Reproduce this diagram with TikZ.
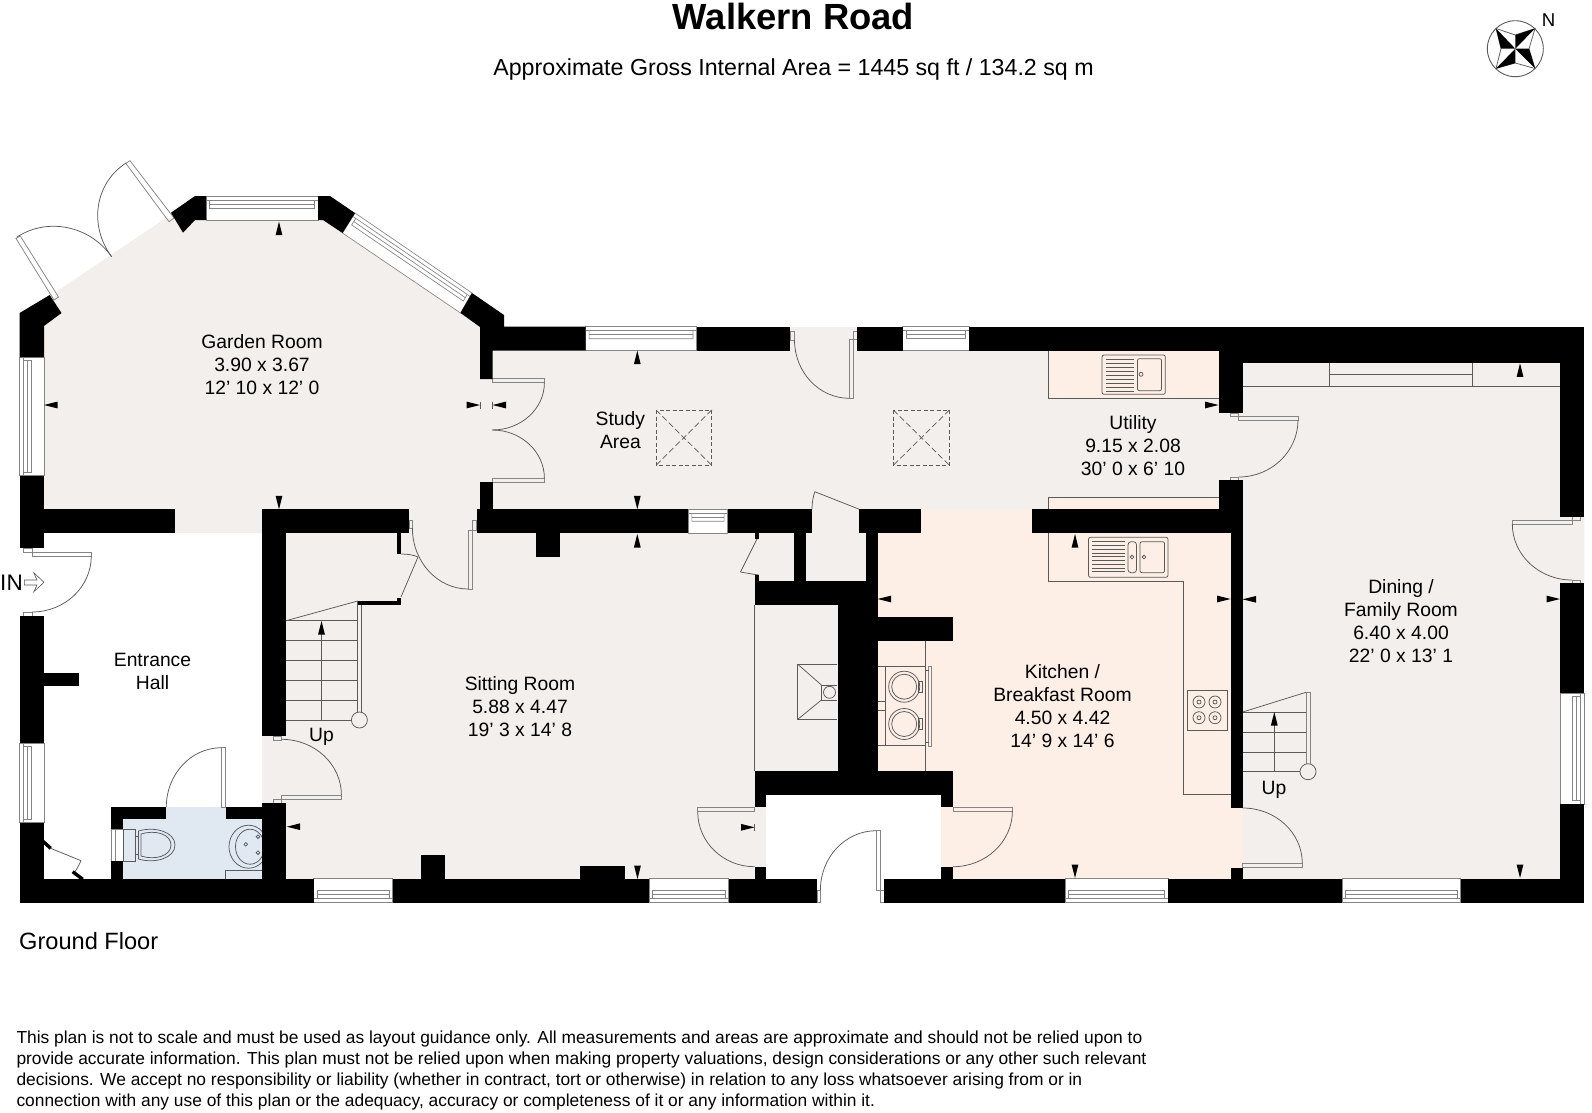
\documentclass[tikz,border=0pt]{standalone}
\usepackage{fontspec}
\setmainfont{Liberation Sans}
\usetikzlibrary{calc}
\definecolor{roomgrey}{HTML}{F3EFEC}
\definecolor{roompeach}{HTML}{FDEEE6}
\definecolor{roomblue}{HTML}{E0E9F2}
\definecolor{linegrey}{HTML}{5A5A5A}
\definecolor{wingrey}{HTML}{858585}
\tikzset{
  fine/.style={draw=linegrey,line width=0.75pt},
  leaf/.style={draw=wingrey,line width=0.75pt},
  winline/.style={draw=wingrey,line width=0.65pt},
  roomlabel/.style={font=\fontsize{19.3}{23}\selectfont,align=center,inner sep=0pt,text=black},
  discl/.style={font=\fontsize{17.38}{21}\selectfont,align=left,inner sep=0pt,anchor=north west},
}
% wall rectangle
\def\wall(#1)(#2){\fill[black] (#1) rectangle (#2);}
% quarter arc from A to B with corner C
\def\qa(#1)(#2)(#3){\draw[fine] (#1) .. controls ($(#1)!.552!(#2)$) and ($(#3)!.552!(#2)$) .. (#3);}
% thin rectangle (door leaf or jamb)
\def\lf(#1)(#2){\draw[leaf] (#1) rectangle (#2);}
% window: outer edge A-B, inner edge C-D
\def\win(#1)(#2)(#3)(#4){%
  \fill[white] (#1) -- (#2) -- (#4) -- (#3) -- cycle;
  \draw[winline] (#1) -- (#2) -- (#4) -- (#3) -- cycle;
  \draw[winline] ($(#1)!.17!(#3)$) -- ($(#2)!.17!(#4)$);
  \draw[winline]
    ($($(#1)!.17!(#3)$)!3.5pt!($(#2)!.17!(#4)$)$) --
    ($($(#1)!.5!(#3)$)!3.5pt!($(#2)!.5!(#4)$)$) --
    ($($(#2)!.5!(#4)$)!3.5pt!($(#1)!.5!(#3)$)$) --
    ($($(#2)!.17!(#4)$)!3.5pt!($(#1)!.17!(#3)$)$);
  \draw[winline]
    ($($(#1)!.33!(#3)$)!3.5pt!($(#2)!.33!(#4)$)$) --
    ($($(#2)!.33!(#4)$)!3.5pt!($(#1)!.33!(#3)$)$);
}
% dimension arrows: tip at x,y
\def\au(#1,#2){\fill[black] (#1,#2) -- ++(-3.4,13.5) -- ++(6.8,0) -- cycle;}
\def\ad(#1,#2){\fill[black] (#1,#2) -- ++(-3.4,-13.5) -- ++(6.8,0) -- cycle;}
\def\al(#1,#2){\fill[black] (#1,#2) -- ++(13.5,-3.4) -- ++(0,6.8) -- cycle;}
\def\ar(#1,#2){\fill[black] (#1,#2) -- ++(-13.5,-3.4) -- ++(0,6.8) -- cycle;}
\def\vb(#1,#2){\draw[fine] (#1,#2-3.5) -- (#1,#2+3.5);}
% skylight
\def\sky(#1,#2,#3,#4){%
  \draw[linegrey,line width=0.7pt,dash pattern=on 4pt off 2.5pt] (#1,#2) rectangle (#3,#4);
  \draw[linegrey,line width=0.7pt,dash pattern=on 6pt off 3pt] (#1,#2) -- (#3,#4);
  \draw[linegrey,line width=0.7pt,dash pattern=on 6pt off 3pt] (#3,#2) -- (#1,#4);
}
\begin{document}
\begin{tikzpicture}[x=1pt,y=-1pt]
\useasboundingbox (0,0) rectangle (1592,1112);
\fill[white] (0,0) rectangle (1592,1112);

% ---------- room fills
\fill[roomgrey] (44,326) -- (56,292) -- (166,218) -- (195,220) -- (323,220) -- (460.5,313) -- (480,327)
  -- (480,340) -- (790,340) -- (790,327) -- (857,327) -- (857,351) -- (1218.6,351) -- (1218.6,363.3)
  -- (1560,363.3) -- (1560,516.7) -- (1584.4,516.7) -- (1584.4,583.3) -- (1560,583.3) -- (1560,879)
  -- (44,879) -- cycle;
\fill[roompeach] (921.3,509.3) -- (1032,509.3) -- (1032,533) -- (1243,533) -- (1243,879) -- (941,879)
  -- (941,807) -- (953,807) -- (953,795) -- (877.5,795) -- (877.5,533) -- (921.3,533) -- cycle;
\fill[roompeach] (1048,351) rectangle (1218.6,398.3);
\fill[roompeach] (1048,497.3) rectangle (1218.6,509.3);
\fill[white] (44,533.3) rectangle (262,879);
\fill[white] (0,548) rectangle (44,616);
\fill[white] (766,795.3) rectangle (941,879);
\fill[white] (817,879) rectangle (884,903);
\fill[roomblue] (123,807) rectangle (262,879);

% ---------- fittings
% utility counter + sink
\draw[fine] (1048,351) -- (1048,398.3) -- (1218.6,398.3);
\draw[fine] (1048,509.3) -- (1048,497.3) -- (1218.6,497.3);
\draw[fine,rounded corners=2pt] (1102,355) rectangle (1165.3,394.3);
\draw[fine,rounded corners=2pt] (1137.4,358.7) rectangle (1161.6,390.7);
\foreach \yy in {359,363,367,371,375,379,383,387,391} {\draw[fine] (1105.7,\yy) -- (1134,\yy);}
\draw[fine] (1141,374.3) circle[radius=2];
% kitchen counter + sink
\draw[fine] (1048,533) -- (1048,581) -- (1183,581) -- (1183,794.7) -- (1230.6,794.7);
\draw[fine,rounded corners=2pt] (1088.5,537.3) rectangle (1168,577.3);
\draw[fine,rounded corners=3pt] (1128,541.7) rectangle (1136.5,572.7);
\draw[fine,rounded corners=2pt] (1140,541.7) rectangle (1164.6,572.7);
\foreach \yy in {541.7,545.5,549.2,553,556.7,560.5,564.2,568,571.7} {\draw[fine] (1092,\yy) -- (1124.7,\yy);}
\draw[fine] (1132,557) circle[radius=1.8];
\draw[fine] (1144,557) circle[radius=1.8];
% hob
\draw[fine] (1187,690.3) rectangle (1227,730);
\foreach \xx/\yy in {1199/702,1215/702,1199/717.7,1215/717.7} {
  \draw[fine] (\xx,\yy) circle[radius=6];
  \draw[fine] (\xx,\yy) circle[radius=2];
}
% range
\draw[fine] (925.5,640.7) -- (925.5,771);
\draw[fine] (885.3,666.7) rectangle (925.5,745.7);
\draw[fine] (877.5,666.7) -- (885.3,666.7);
\draw[fine] (877.5,745.7) -- (885.3,745.7);
\draw[fine] (877.5,701.7) -- (885.3,701.7);
\draw[fine] (877.5,710) -- (885.3,710);
\lf(928.6,666)(931.6,746)
\draw[fine] (925.5,670) -- (928.6,670);
\draw[fine] (925.5,742) -- (928.6,742);
\foreach \yy in {686.7,724} {
  \draw[fine] (904.2,\yy) circle[radius=15.5];
  \draw[fine] (904.2,\yy) circle[radius=12.5];
  \draw[fine] (918,\yy-5.5) rectangle (922,\yy+5.5);
}
% fireplace
\draw[fine] (837.3,664.3) -- (797.8,664.3) -- (797.8,719.3) -- (837.3,719.3);
\draw[fine] (837.3,685) -- (821.4,685) -- (821.4,700) -- (837.3,700);
\draw[fine] (797.8,664.3) -- (821.4,685);
\draw[fine] (797.8,719.3) -- (821.4,700);
\draw[fine] (829.5,692.3) circle[radius=6];
\draw[fine] (754.5,605) -- (754.5,771);
% skylights
\sky(656,410,711.7,465.3)
\sky(893.3,410,949.4,465.3)
% dining counter
\draw[fine] (1242.7,386.7) -- (1560,386.7);
\draw[fine] (1329.6,363.3) -- (1329.6,386.7);
\draw[fine] (1472.6,363.3) -- (1472.6,386.7);
\draw[fine] (1329.6,374.3) -- (1472.6,374.3);
% WC
\draw[leaf,fill=white] (111,829) rectangle (123,861);
\draw[leaf] (115,829) -- (115,861);
\draw[fine,fill=roomblue] (123,829) rectangle (135,861);
\draw[fine] (135,836) -- (139,836);
\draw[fine] (135,854) -- (139,854);
\draw[fine,fill=roomblue] (138.6,831) .. controls (155,826) and (175,832) .. (175,845) .. controls (175,858) and (155,864) .. (138.6,859) -- cycle;
\draw[fine] (141,834) .. controls (155,829.5) and (171,834) .. (171,845) .. controls (171,856) and (155,860.5) .. (141,856) -- cycle;
\draw[fine] (248.5,846.7) ellipse[x radius=19.5,y radius=21.5];
\draw[fine] (250,846.7) ellipse[x radius=14.5,y radius=17.5];
\draw[fine] (258,836.7) circle[radius=1.8];
\draw[fine] (258,852.7) circle[radius=1.8];
\draw[fine] (245.8,844.3) circle[radius=1.8];
\draw[fine] (225.8,878.7) -- (225.8,870.7) -- (262,870.7);
% stairs, sitting room
\foreach \yy in {620.7,640.3,660.3,680.3,700.3,720} {\draw[fine] (286,\yy) -- (357.7,\yy);}
\draw[fine] (286,620.7) -- (357.7,601);
\draw[fine] (357.7,601) -- (357.7,712);
\draw[fine] (361.7,601) -- (361.7,712);
\draw[fine,fill=roomgrey] (359.4,720) circle[radius=8];
\draw[fine] (321.5,720) -- (321.5,625);
\au(321.5,621)
% stairs, dining room
\foreach \yy in {712,732,752,771.7} {\draw[fine] (1242.7,\yy) -- (1306,\yy);}
\draw[fine] (1242.7,712) -- (1306,692.3);
\lf(1306,692.3)(1310,764)
\draw[fine,fill=roomgrey] (1308,771.7) circle[radius=8];
\draw[fine] (1274.3,771.7) -- (1274.3,716);
\au(1274.3,712)

% ---------- windows
\win(206,196)(318,196)(206,220)(318,220)
\win(355,213)(472,293)(342.5,233)(460.5,313)
\win(19.6,357)(19.6,475.7)(44,357)(44,475.7)
\win(19.6,743)(19.6,822.7)(44,743)(44,822.7)
\win(585.6,326.7)(696.5,326.7)(585.6,350.7)(696.5,350.7)
\win(902.7,326.7)(969.3,326.7)(902.7,350.7)(969.3,350.7)
\win(688.4,509.3)(727.6,509.3)(688.4,533.3)(727.6,533.3)
\win(313.7,902.7)(392.8,902.7)(313.7,878.7)(392.8,878.7)
\win(649,902.7)(728.8,902.7)(649,878.7)(728.8,878.7)
\win(1065,902.7)(1168,902.7)(1065,878.7)(1168,878.7)
\win(1342,902.7)(1460.7,902.7)(1342,878.7)(1460.7,878.7)
\win(1584.4,693.3)(1584.4,804.3)(1560,693.3)(1560,804.3)

% ---------- doors
% garden french doors
\draw[leaf] (15.9,238.3) -- (20.3,236) -- (58.5,297) -- (54,300) -- cycle;
\draw[leaf] (125.8,163.3) -- (130,160.7) -- (174,218) -- (169,221.7) -- cycle;
\qa(17,237)(72.6,200.7)(111.6,256.7)
\qa(126,163)(69.6,199.7)(111.6,256.7)
% IN door
\lf(23.6,548)(32,552.3)
\lf(32,552.3)(91.3,556)
\lf(23.6,612)(32,616)
\qa(91.3,556)(91.3,612)(32,612)
% hall/sitting doors
\lf(409,520)(412.4,528)
\lf(472.3,520)(476.7,530)
\lf(468.2,530)(472.3,589)
\qa(412.4,528)(412.4,589)(468.2,589)
\draw[fine] (401,597) -- (418,557);
\draw[fine] (401,554) .. controls (408,554) and (414,555) .. (418,557);
\lf(273.8,736)(281.6,740)
\lf(281.6,795)(341.4,799.3)
\lf(273.8,799.3)(281.6,803)
\qa(341.4,795)(341.4,739.3)(281.6,739.3)
% WC door
\lf(221.4,747.7)(225.8,807)
\qa(221.4,747.7)(166.3,747.7)(166.3,807)
% study french doors
\lf(492.3,378.7)(544.4,382.7)
\lf(492.3,478.3)(544.4,482.3)
\qa(544.4,382.7)(544.4,430)(492.3,430)
\qa(544.4,478.3)(544.4,430)(492.3,430)
% study top door
\lf(790,331.7)(794.5,340)
\lf(853.4,331.7)(857,339.3)
\lf(849.3,339.3)(853.4,398.3)
\qa(794.5,340)(794.5,398.3)(849.3,398.3)
% utility door
\lf(1230.3,413)(1238.6,416.7)
\lf(1238.6,416.7)(1298,420)
\lf(1230.3,477)(1238.6,480)
\qa(1298,420)(1298,477)(1238.6,477)
% dining east door
\lf(1512.3,520.7)(1572,524)
\lf(1572,516.7)(1580,520.7)
\lf(1572,580)(1580,583.3)
\qa(1512.3,524)(1512.3,580)(1572,580)
% dining / kitchen door
\lf(1242.7,863.3)(1302.3,867.7)
\qa(1302.3,863.3)(1302.3,808)(1242.7,808)
% porch door
\lf(817,890)(820.4,902.7)
\lf(880,890)(884,902.7)
\lf(876.2,830.7)(880,890)
\qa(820.4,890)(820.4,830.7)(876.2,830.7)
% sitting / porch door
\lf(697.7,807.3)(754.5,811.7)
\qa(697.7,811.7)(697.7,866.7)(754.5,866.7)
% kitchen / porch door
\lf(953,807.3)(1012.4,811)
\qa(1012.4,811)(1012.4,866.7)(953,866.7)
% cupboard doors
\draw[fine] (859.4,509.3) -- (814.8,491.7);
\draw[fine] (814.8,491.7) .. controls (813,497) and (812,503) .. (812,509.3);
\draw[fine] (757,539) -- (740.5,572);
\draw[fine] (740.5,572) .. controls (746,573) and (752,574) .. (758.7,575);
% hall diagonal door
\draw[fine] (50.7,848.3) -- (81,860.7);
\draw[fine] (81,860.7) .. controls (79.5,864) and (77.5,868) .. (75,871.7);
\draw[black,line width=3.4pt] (42.3,840.7) -- (50.7,848.3);
\draw[black,line width=3.4pt] (72.7,871.7) -- (82.8,879.3);

% ---------- walls
% garden room corners
\fill[black] (171,212.7) -- (195,196) -- (206,196) -- (206,220) -- (195,220) -- (183,232.7) -- cycle;
\fill[black] (318,196) -- (330,196) -- (355,213) -- (342.5,233) -- (323,220) -- (318,220) -- cycle;
\fill[black] (472,293) -- (504,315) -- (504,326.7) -- (585.6,326.7) -- (585.6,350.7) -- (492.5,350.7)
  -- (492.5,379) -- (480,379) -- (480,327) -- (460.5,313) -- cycle;
\fill[black] (19.6,313) -- (49.7,295) -- (61.5,313) -- (44,326) -- (44,357) -- (19.6,357) -- cycle;
% west side
\wall(19.6,475.7)(44,548)
\wall(44,509.3)(174.8,533.3)
\wall(19.6,616)(44,743)
\wall(44,673)(79.4,686)
\wall(19.6,822.7)(44,902.7)
% south wall
\wall(19.6,878.7)(313.7,902.7)
\wall(392.8,878.7)(649,902.7)
\wall(728.8,878.7)(817,902.7)
\wall(884,878.7)(1065,902.7)
\wall(1168,878.7)(1342,902.7)
\wall(1460.7,878.7)(1584.4,902.7)
\wall(421,855)(445,879)
\wall(580,866)(625,879)
% north wall
\wall(696.5,326.7)(790,350.7)
\wall(857,326.7)(902.7,350.7)
\wall(969.3,326.7)(1584.4,350.7)
\wall(1218.6,326.7)(1584.4,363.3)
\wall(1218.6,326.7)(1242.7,413)
% east wall
\wall(1560,326.7)(1584.4,516.7)
\wall(1560,583.3)(1584.4,693.3)
\wall(1560,804.3)(1584.4,902.7)
% hall / sitting
\wall(262,509.3)(409,533.3)
\wall(262,509.3)(286,736)
\wall(262,803)(286,879)
\wall(397,533.3)(401,554)
\wall(357.7,600.7)(401.3,605.3)
\wall(397.3,597.7)(401.3,605.3)
% WC
\wall(111,807)(166.3,819)
\wall(225.8,807)(262,819)
\wall(111,807)(123,829)
\wall(111,861)(123,879)
% study south wall
\wall(476.8,509.3)(688.4,533.3)
\wall(727.6,509.3)(812,533.3)
\wall(859.4,509.3)(921.3,533.3)
\wall(480,481.7)(492.5,509.3)
\wall(535.6,533)(560,557.3)
% chimney block
\wall(794,533)(806.4,581)
\wall(865.5,533)(877.7,605)
\wall(754.6,580.7)(877.7,605)
\wall(837.6,605)(877.5,771)
\wall(877.5,616.7)(953,640.7)
\wall(754.5,771)(953,795.3)
\wall(754.5,795)(766,807.3)
\wall(941,795)(953,807.3)
\wall(754.5,866.7)(766,879)
\wall(941,866.7)(953,879)
\wall(754.6,533)(758.7,539)
\wall(754.6,575)(758.7,581)
% kitchen / dining
\wall(1032,509.3)(1243,533.3)
\wall(1218.6,480)(1242.7,533.3)
\wall(1230.6,533)(1242.7,807.8)
\wall(1230.6,867.5)(1242.7,879)

% ---------- dimension arrows
\au(279,221.7)
\ad(279,509.3)
\al(44,405)
\ar(480,405) \vb(480,405)
\al(492.5,405) \vb(492.5,405)
\au(637.3,350.7)
\ad(637.3,509.3)
\au(637.3,534)
\al(286.7,826.7)
\ad(637.5,879)
\ar(754.5,827.3) \vb(754.5,827.3)
\al(877.7,599)
\ar(1230.6,599)
\al(1242.7,599.3)
\ar(1560,599)
\au(1075,534)
\ad(1075,878)
\ar(1218.6,405)
\au(1520,363.3)
\ad(1520,878)

% ---------- IN arrow
\draw[fine,line width=0.6pt] (24.3,580) -- (37,580) -- (33.8,572.7) -- (44,582.3) -- (33.8,591.7) -- (37,585) -- (24.3,585) -- cycle;

% ---------- compass
\draw[fine,line width=0.9pt] (1515.3,48.7) circle[radius=28];
\draw[fine] (1535,28.5) -- (1515.3,35) -- (1496,28.5) -- (1501,48.7) -- (1496,68.5) -- (1515.3,63) -- (1535,68.5) -- (1529,48.7) -- cycle;
\fill[black] (1535,28.5) -- (1515.3,35) -- (1515.3,48.7) -- cycle;
\fill[black] (1496,28.5) -- (1501,48.7) -- (1515.3,48.7) -- cycle;
\fill[black] (1496,68.5) -- (1515.3,63) -- (1515.3,48.7) -- cycle;
\fill[black] (1535,68.5) -- (1529,48.7) -- (1515.3,48.7) -- cycle;

% ---------- texts
\node[font=\fontsize{36.4}{40}\selectfont\bfseries,inner sep=0pt] (title) at (793.5,16) {Walkern Road};
\node[font=\fontsize{23.2}{28}\selectfont,inner sep=0pt] (subtitle) at (793.5,69.5) {Approximate Gross Internal Area = 1445 sq ft / 134.2 sq m};
\node[font=\fontsize{18.6}{20}\selectfont,inner sep=0pt] (north) at (1548.5,20) {N};
\node[roomlabel] (garden) at (262,365) {Garden Room\\3.90 x 3.67\\12' 10 x 12' 0};
\node[roomlabel] (entrance) at (152.5,671) {Entrance\\Hall};
\node[roomlabel] (sitting) at (520,706.5) {Sitting Room\\5.88 x 4.47\\19' 3 x 14' 8};
\node[roomlabel] (study) at (620.4,430.5) {Study\\Area};
\node[roomlabel] (utility) at (1133,445.7) {Utility\\9.15 x 2.08\\30' 0 x 6' 10};
\node[roomlabel] (kitchen) at (1062.5,706.5) {Kitchen /\\Breakfast Room\\4.50 x 4.42\\14' 9 x 14' 6};
\node[roomlabel] (dining) at (1401,621) {Dining /\\Family Room\\6.40 x 4.00\\22' 0 x 13' 1};
\node[roomlabel] (upa) at (321.5,737) {Up};
\node[roomlabel] (upb) at (1274,790) {Up};
\node[font=\fontsize{22.5}{24}\selectfont,inner sep=0pt] (inlabel) at (11.5,582.5) {IN};
\node[font=\fontsize{23.6}{26}\selectfont,inner sep=0pt,anchor=west] (floor) at (19,941) {Ground Floor};
\node[discl] (disclaimer) at (16.3,1031) {This plan is not to scale and must be used as layout guidance only. All measurements and areas are approximate and should not be relied upon to\\
provide accurate information. This plan must not be relied upon when making property valuations, design considerations or any other such relevant\\
decisions. We accept no responsibility or liability (whether in contract, tort or otherwise) in relation to any loss whatsoever arising from or in\\
connection with any use of this plan or the adequacy, accuracy or completeness of it or any information within it.};
\end{tikzpicture}
\end{document}
